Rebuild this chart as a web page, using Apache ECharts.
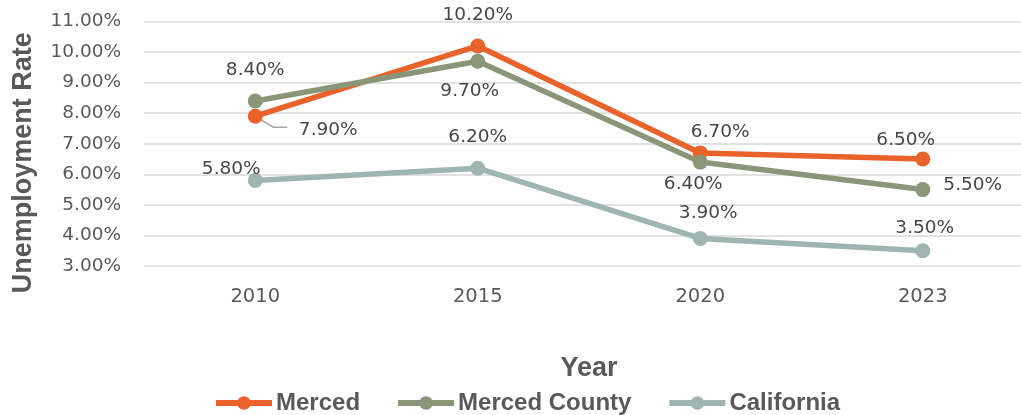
<!DOCTYPE html>
<html>
<head>
<meta charset="utf-8">
<script src="https://cdn.jsdelivr.net/npm/echarts@6/dist/echarts.min.js"></script>
<style>
  html, body { margin: 0; padding: 0; background: #fff; }
  #chart { width: 1021px; height: 415px; }
</style>
</head>
<body>
<div id="chart"></div>
<script>
// Unemployment rate by year, in percent
const years = ['2010', '2015', '2020', '2023'];
const merced = [7.9, 10.2, 6.7, 6.5];
const mercedCounty = [8.4, 9.7, 6.4, 5.5];
const california = [5.8, 6.2, 3.9, 3.5];

// Label centre offsets (px) from each point, so labels sit clear of the lines
const mercedLabelOffset = [[73, 14], [0, -31], [20, -21], [-17, -19]];
const countyLabelOffset = [[0, -31], [-8, 30], [-7, 22], [50, -4]];
const californiaLabelOffset = [[-24, -11], [0, -31], [8, -25], [2, -23]];

const COLORS = { merced: '#E8622A', county: '#8A9678', california: '#9EB5B1' };
const TEXT_FONT = '"DejaVu Sans", sans-serif';
const TITLE_FONT = '"Liberation Sans", Arial, sans-serif';

function pct(v) { return v.toFixed(2) + '%'; }

function makeSeries(name, values, offsets, color) {
  return {
    name: name,
    type: 'line',
    data: values.map((v, i) => ({ value: v, label: { offset: offsets[i] } })),
    symbol: 'circle',
    symbolSize: 15,
    lineStyle: { width: 5.5, color: color },
    itemStyle: { color: color },
    label: {
      show: true,
      position: 'inside',
      fontFamily: TEXT_FONT,
      fontSize: 18.5,
      color: '#474747',
      formatter: p => pct(p.value)
    },
    emphasis: { disabled: true }
  };
}

const chart = echarts.init(document.getElementById('chart'), null, { renderer: 'canvas' });
chart.setOption({
  animation: false,
  backgroundColor: '#ffffff',
  grid: {
    left: 144, top: 21.5, width: 890, bottom: 149,
    outerBoundsMode: 'none', containLabel: false
  },
  xAxis: {
    type: 'category',
    data: years,
    boundaryGap: true,
    axisLine: { show: false },
    axisTick: { show: false },
    axisLabel: { fontFamily: TEXT_FONT, fontSize: 19.5, color: '#595959', margin: 21 },
    name: 'Year',
    nameLocation: 'middle',
    nameGap: 89,
    nameTextStyle: { fontFamily: TITLE_FONT, fontSize: 27, fontWeight: 'bold', color: '#595959' }
  },
  yAxis: {
    type: 'value',
    min: 3,
    max: 11,
    interval: 1,
    axisLine: { show: false },
    axisTick: { show: false },
    splitLine: { lineStyle: { color: '#D9D9D9', width: 1.6 } },
    axisLabel: { fontFamily: TEXT_FONT, fontSize: 18.5, color: '#595959', margin: 23, formatter: v => pct(v) },
    name: 'Unemployment Rate',
    nameLocation: 'middle',
    nameGap: 107,
    nameTextStyle: {
      fontFamily: TITLE_FONT, fontSize: 27, fontWeight: 'bold', color: '#595959',
      padding: [0, 38, 0, 0]
    }
  },
  legend: {
    top: 391,
    left: 213,
    padding: 0,
    itemWidth: 56,
    itemHeight: 17,
    itemGap: 35,
    lineStyle: { width: 6 },
    textStyle: { fontFamily: TITLE_FONT, fontSize: 24, fontWeight: 'bold', color: '#595959', padding: [0, 0, 0, -1] },
    data: ['Merced', 'Merced County', 'California']
  },
  series: [
    makeSeries('Merced', merced, mercedLabelOffset, COLORS.merced),
    makeSeries('Merced County', mercedCounty, countyLabelOffset, COLORS.county),
    makeSeries('California', california, californiaLabelOffset, COLORS.california)
  ]
});

// Leader line from the 2010 Merced point to its label
const p = chart.convertToPixel({ xAxisIndex: 0, yAxisIndex: 0 }, [0, merced[0]]);
chart.setOption({
  graphic: [{
    type: 'polyline',
    shape: { points: [[p[0] + 3, p[1] + 2], [p[0] + 18, p[1] + 11], [p[0] + 32, p[1] + 11]] },
    style: { stroke: '#A6A6A6', lineWidth: 1.5, fill: null },
    z: 1
  }]
});
</script>
</body>
</html>
